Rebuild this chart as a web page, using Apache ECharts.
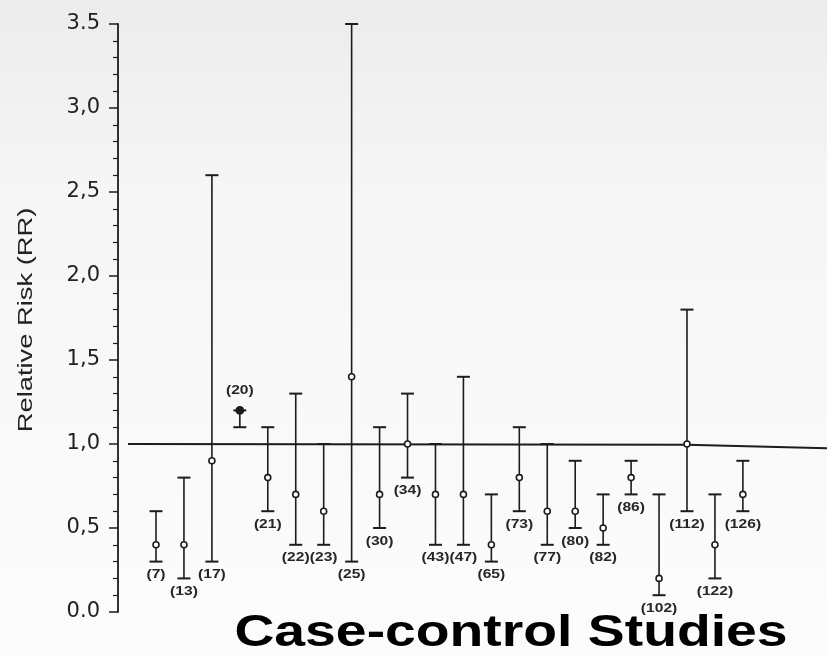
<!DOCTYPE html>
<html>
<head>
<meta charset="utf-8">
<script src="https://cdn.jsdelivr.net/npm/echarts@6/dist/echarts.min.js"></script>
<style>
  html, body { margin: 0; padding: 0; background: #fff; }
  #chart { width: 827px; height: 656px; }
</style>
</head>
<body>
<div id="chart"></div>
<script>
// Study reference numbers, point estimates and 95% confidence limits
const studies = ['(7)', '(13)', '(17)', '(20)', '(21)', '(22)', '(23)', '(25)', '(30)', '(34)', '(43)',
                 '(47)', '(65)', '(73)', '(77)', '(80)', '(82)', '(86)', '(102)', '(112)', '(122)', '(126)'];
const rr    = [0.4, 0.4, 0.9, 1.2, 0.8, 0.7, 0.6, 1.4, 0.7, 1.0, 0.7, 0.7, 0.4, 0.8, 0.6, 0.6, 0.5, 0.8, 0.2, 1.0, 0.4, 0.7];
const lower = [0.3, 0.2, 0.3, 1.1, 0.6, 0.4, 0.4, 0.3, 0.5, 0.8, 0.4, 0.4, 0.3, 0.6, 0.4, 0.5, 0.4, 0.7, 0.1, 0.6, 0.2, 0.6];
const upper = [0.6, 0.8, 2.6, 1.2, 1.1, 1.3, 1.0, 3.5, 1.1, 1.3, 1.0, 1.4, 0.7, 1.1, 1.0, 0.9, 0.7, 0.9, 0.7, 1.8, 0.7, 0.9];

// y-axis tick labels, bottom to top
const tickLabels = ['0.0', '0,5', '1,0', '1,5', '2,0', '2,5', '3,0', '3.5'];

// RR = 1 reference line, x in study-index units
const nullLineX = [-1.0, 19.0, 24.01];
const nullLineY = [1.0, 0.995, 0.975];

const ink = '#1c1c1c';
const chart = echarts.init(document.getElementById('chart'), null, { renderer: 'canvas' });

const rows = studies.map((s, i) => [i, lower[i], rr[i], upper[i]]);

function renderInterval(params, api) {
  const i = api.value(0);
  const lo = api.coord([i, api.value(1)]);
  const pt = api.coord([i, api.value(2)]);
  const hi = api.coord([i, api.value(3)]);
  const x = lo[0];
  const cap = 6.5;
  const filled = api.value(2) >= api.value(3);
  const labelAbove = api.value(1) > 1;
  return {
    type: 'group',
    children: [
      { type: 'line', shape: { x1: x, y1: hi[1], x2: x, y2: lo[1] }, style: { stroke: ink, lineWidth: 1.6 } },
      { type: 'line', shape: { x1: x - cap, y1: hi[1], x2: x + cap, y2: hi[1] }, style: { stroke: ink, lineWidth: 2 } },
      { type: 'line', shape: { x1: x - cap, y1: lo[1], x2: x + cap, y2: lo[1] }, style: { stroke: ink, lineWidth: 2 } },
      { type: 'circle', shape: { cx: x, cy: pt[1], r: filled ? 3.6 : 3 },
        style: { fill: filled ? ink : '#fff', stroke: ink, lineWidth: 1.6 } },
      { type: 'text', x: x, y: labelAbove ? pt[1] - 20 : lo[1] + 13, scaleX: 1.2,
        style: { text: studies[params.dataIndex], fill: '#262626', fontFamily: 'Liberation Sans',
                 fontWeight: 'bold', fontSize: 13, align: 'center', verticalAlign: 'middle' } }
    ]
  };
}

chart.setOption({
  animation: false,
  backgroundColor: new echarts.graphic.LinearGradient(0, 0, 0, 1, [
    { offset: 0, color: '#ececec' },
    { offset: 0.3, color: '#f6f6f6' },
    { offset: 1, color: '#fcfcfc' }
  ]),
  grid: { left: 118, right: 0, top: 24, bottom: 44, outerBoundsMode: 'none' },
  xAxis: { type: 'value', min: -1.36, max: 24.01, show: false },
  yAxis: {
    type: 'value', min: 0, max: 3.5, interval: 0.5,
    axisLine: { show: true, onZero: false, lineStyle: { color: ink, width: 1.8 } },
    axisTick: { show: true, length: 9, lineStyle: { color: ink, width: 1.5 } },
    minorTick: { show: true, splitNumber: 5, length: 5, lineStyle: { color: ink, width: 1.2 } },
    splitLine: { show: false },
    axisLabel: {
      formatter: v => tickLabels[Math.round(v / 0.5)],
      fontFamily: 'DejaVu Sans', fontSize: 21, color: '#222', margin: 18
    }
  },
  graphic: [
    { type: 'text', x: 26, y: 320, rotation: Math.PI / 2, scaleX: 1.3,
      style: { text: 'Relative Risk (RR)', font: '21px "Liberation Sans"', fill: '#222',
               align: 'center', verticalAlign: 'middle' } },
    { type: 'text', x: 511, y: 634, scaleX: 1.257,
      style: { text: 'Case-control Studies', font: 'bold 44px "Liberation Sans"', fill: '#000',
               align: 'center', verticalAlign: 'middle' } }
  ],
  series: [
    {
      type: 'line', data: nullLineX.map((x, i) => [x, nullLineY[i]]),
      symbol: 'none', lineStyle: { color: ink, width: 2 }, z: 1, silent: true
    },
    {
      type: 'custom', data: rows, renderItem: renderInterval, clip: false, z: 2,
      encode: { x: 0, y: [1, 2, 3] }
    }
  ]
});
</script>
</body>
</html>
